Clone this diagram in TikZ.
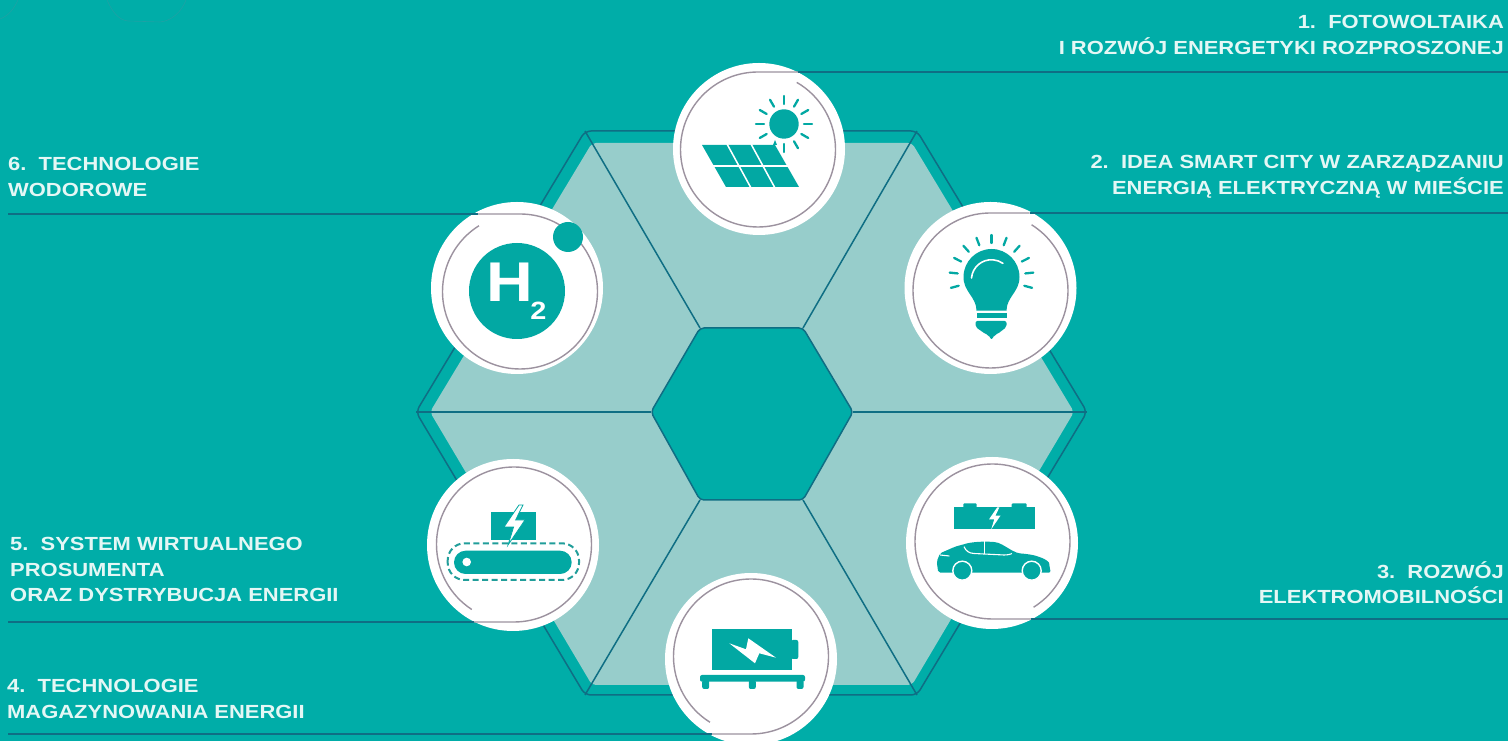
\documentclass[tikz,border=0pt]{standalone}
\usepackage{fontspec}
\setmainfont{Liberation Sans}[FakeStretch=1.155]
\usetikzlibrary{calc}
\definecolor{seacol}{HTML}{00ADA8}
\definecolor{icocol}{HTML}{02A8A3}
\definecolor{palecol}{HTML}{97CDCB}
\definecolor{edgecol}{HTML}{0F6E84}
\definecolor{ringcol}{HTML}{9C929F}
\definecolor{textcol}{HTML}{E4F7F5}
\tikzset{
 badge/.style={circle, fill=white, minimum size=172, inner sep=0},
 caption/.style={text=textcol, inner sep=0, font=\fontsize{19}{25.7}\selectfont\bfseries},
 edgeline/.style={edgecol, line width=1.5},
 leadline/.style={edgecol, line width=1.1},
 ringline/.style={ringcol, line width=1.4},
 ray/.style={icocol, line width=2.3, line cap=round},
 cutline/.style={white, line width=1.5},
 bolt/.pic={\path[pic actions] (.25,1)--(-.5,-.1)--(-.02,-.1)--(-.3,-1)--(.55,.25)--(.08,.25)--(.45,1)--cycle;}
}
\begin{document}
\begin{tikzpicture}[x=1pt,y=1pt]
\clip (0,0) rectangle (1508,741);
\fill[seacol] (0,0) rectangle (1508,741);
\draw[icocol!70!edgecol!90, line width=.6] (18,741) .. controls (14,732) and (8,725) .. (0,722);
\draw[icocol!70!edgecol!90, line width=.6] (107,741) .. controls (112,730) and (118,721) .. (128,720) -- (160,719) .. controls (172,720) and (182,730) .. (186,741);
% hexagon
\fill[palecol, rounded corners=4] (430,329)--(592,598)--(912,598)--(1074,329)--(912,56)--(592,56)--cycle;
\draw[edgeline, rounded corners=6] (416,329)--(585,610)--(917,610)--(1087,329)--(917,46)--(585,46)--cycle;
\fill[seacol, rounded corners=4] (651,329)--(700,413)--(803,413)--(853,329)--(803,241)--(700,241)--cycle;
\draw[edgeline, rounded corners=4] (651,329)--(700,413)--(803,413)--(853,329)--(803,241)--(700,241)--cycle;
\foreach \a/\b in {651/416, 853/1087} \draw[edgeline] (\a,329)--(\b,329);
\foreach \a/\c/\b/\d in {700/413/585/610, 803/413/917/610, 803/241/917/46, 700/241/585/46}
 \draw[edgeline] (\a,\c)--(\b,\d);
% badges
\foreach \n/\x/\y in {solar/759/592, bulb/990.5/453, car/992/198, battery/751/82, belt/513/196, hydro/517/453}
 \node[badge] (\n) at (\x,\y) {};
% leaders and rings
\coordinate (lead1) at (1508,669); \coordinate (tan1) at (758,669);
\coordinate (lead2) at (1508,528); \coordinate (tan2) at (990.5,528);
\coordinate (lead3) at (1508,122); \coordinate (tan3) at (992.5,122);
\coordinate (lead4) at (8,7);      \coordinate (tan4) at (751,7);
\coordinate (lead5) at (8,119);    \coordinate (tan5) at (514,119);
\coordinate (lead6) at (8,527);    \coordinate (tan6) at (520,527);
\foreach \i/\n/\a/\s/\d in {1/solar/63/90/330, 2/bulb/63/90/328, 3/car/-63/-90/-328, 4/battery/-117/-90/328, 5/belt/-117/-90/327, 6/hydro/117/90/-328} {
 \draw[leadline] (lead\i)--(\n.\a |- lead\i);
 \draw[ringline] (\n.\a |- lead\i)--(tan\i) arc[start angle=\s, delta angle=\d, radius=77.5];
}
% solar panel
\begin{scope}[shift={(solar.center)}]
\begin{scope}[shift={(25,25)}]
\fill[icocol] (0,0) circle (14.7);
\foreach \a in {-90,-60,...,210} \draw[ray] (\a:20)--(\a:28);
\end{scope}
\fill[icocol] (-57,4)--(16,4)--(40,-38)--(-33,-38)--cycle;
\fill[icocol] (14,4)--(16,9)--(18,4)--cycle;
\draw[cutline] (-49,-17)--(30,-17);
\draw[cutline] (-32,5)--(-8,-39);
\draw[cutline] (-8,5)--(16,-39);
\end{scope}
% bulb
\begin{scope}[shift={(bulb.center)}]
\fill[icocol] (-14,-22.7) .. controls (-14,-9) and (-27,-4) .. (-27,11) arc[start angle=180, delta angle=-180, radius=28] .. controls (29,-4) and (16,-9) .. (16,-22.7)--cycle;
\fill[icocol] (-14,-25)--(16,-25)--(16,-30)--(-14,-30)--cycle;
\fill[icocol, rounded corners=2] (-15,-33)--(16,-33)--(16,-39)--(7,-46)--(4,-47)--(1,-52)--(-2,-47)--(-5,-46)--(-15,-39)--cycle;
\draw[white, line width=1.6, line cap=round] (-19,10) arc[start angle=175, delta angle=-120, radius=20];
\begin{scope}[shift={(1,11)}]
\foreach \a in {-15,6,27,48,69,90,111,132,153,174,195} \draw[ray] (\a:34)--(\a:42);
\end{scope}
\end{scope}
% car and its battery
\begin{scope}[shift={(car.center)}]
\fill[icocol] (-37.7,13.7) rectangle (43,36);
\fill[icocol, rounded corners=1] (-28.7,35) rectangle (-15.3,39.7);
\fill[icocol, rounded corners=1] (19.7,35) rectangle (34.7,39.7);
\pic[fill=white, scale=11] at (2.5,24.7) {bolt};
\fill[icocol, rounded corners=2] (-53.7,-29.7)--(-55.3,-18.7)--(-52,-10.3) .. controls (-42,-6) and (-36,-3) .. (-30,-2) .. controls (-22,1) and (-8,2) .. (4.7,.7) .. controls (12,-2) and (18,-7) .. (26.3,-10.3) .. controls (36,-11) and (42,-12) .. (48,-14.3) .. controls (53,-16) and (57,-19) .. (57.3,-22)--(58.7,-29.7)--cycle;
\fill[icocol, draw=white, line width=1.4] (-29.7,-27.7) circle (9.5);
\fill[icocol, draw=white, line width=1.4] (39.7,-27.7) circle (9.5);
\draw[cutline, line width=1.1] (-28,-3.7) .. controls (-26,-8) and (-23,-10.3) .. (-18,-10.5)--(12,-12) .. controls (16,-12) and (20,-11) .. (19.7,-10.3);
\draw[cutline, line width=1.1] (-7.5,1.5)--(-7.5,-11);
\draw[cutline, line width=1.1] (-52,-12)--(-42.7,-13);
\end{scope}
% battery on a pallet
\begin{scope}[shift={(battery.center)}]
\fill[icocol] (-38.7,-11) rectangle (41.3,30);
\fill[icocol, rounded corners=2] (40,0) rectangle (47.3,19);
\fill[white] (-21.7,15.7)--(-5,9.7)--(-2.7,20.7)--(25,1.3)--(8.3,5.7)--(4,-4.3)--cycle;
\fill[icocol, rounded corners=2] (-51,-22.7) rectangle (54,-16);
\foreach \x in {-45.3,1.3,49} \fill[icocol, rounded corners=2] (\x-3.5,-30) rectangle (\x+3.5,-21);
\end{scope}
% belt
\begin{scope}[shift={(belt.center)}]
\fill[icocol] (-22.3,5) rectangle (23,32.7);
\pic[fill=white, draw=icocol, line width=.8, scale=20] at (1,20) {bolt};
\fill[icocol, rounded corners=11.6] (-59,-29) rectangle (58.7,-5.7);
\fill[white] (-46.3,-17) circle (4.3);
\draw[icocol!75!gray, line width=2, dash pattern=on 6 off 3.5, rounded corners=17] (-65.3,-35) rectangle (66,1.7);
\end{scope}
% hydrogen
\fill[icocol] (517,450) circle (48);
\node[inner sep=0, text=white, font=\fontsize{56}{56}\selectfont\bfseries] (hbig) at (510,459) {H};
\node[inner sep=0, text=white, font=\fontsize{25}{25}\selectfont\bfseries] (hsub) at (538.5,430) {2};
\fill[icocol] (568,504) circle (15);
% captions
\node[caption, anchor=north east, align=right] (cap1) at (1504,726) {1.\ \ FOTOWOLTAIKA\\I ROZWÓJ ENERGETYKI ROZPROSZONEJ};
\node[caption, anchor=north east, align=right] (cap2) at (1504,586) {2.\ \ IDEA SMART CITY W ZARZĄDZANIU\\ENERGIĄ ELEKTRYCZNĄ W MIEŚCIE};
\node[caption, anchor=north east, align=right] (cap3) at (1504,180) {3.\ \ ROZWÓJ\\ELEKTROMOBILNOŚCI};
\node[caption, anchor=north west, align=left] (cap4) at (7,62) {4.\ \ TECHNOLOGIE\\MAGAZYNOWANIA ENERGII};
\node[caption, anchor=north west, align=left] (cap5) at (10,204) {5.\ \ SYSTEM WIRTUALNEGO\\PROSUMENTA\\ORAZ DYSTRYBUCJA ENERGII};
\node[caption, anchor=north west, align=left] (cap6) at (8,584) {6.\ \ TECHNOLOGIE\\WODOROWE};
\end{tikzpicture}
\end{document}
